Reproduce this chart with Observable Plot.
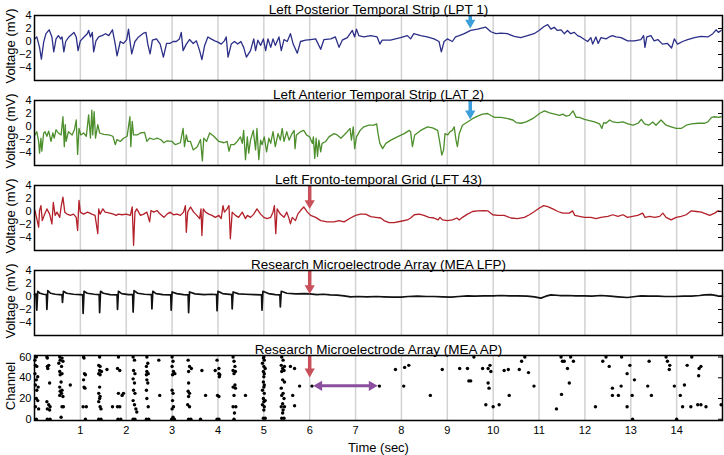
<!DOCTYPE html>
<html><head><meta charset="utf-8">
<script src="https://cdn.jsdelivr.net/npm/d3@7"></script>
<script src="https://cdn.jsdelivr.net/npm/@observablehq/plot@0.6"></script>
<style>
body{margin:0;background:#fff;}
#chart{position:relative;width:724px;height:455px;}
#chart svg{position:absolute;left:0;}
</style></head><body><div id="chart"></div>
<script>
// ---- tick labels / axes ----
const xTicks = [1,2,3,4,5,6,7,8,9,10,11,12,13,14];
const vTicks = [-4,-2,0,2,4];
const chTicks = [0,20,40,60];
const titles = ["Left Posterior Temporal Strip (LPT 1)","Left Anterior Temporal Strip (LAT 2)","Left Fronto-temporal Grid (LFT 43)","Research Microelectrode Array (MEA LFP)","Research Microelectrode Array (MEA AP)"];

// ---- traces: [time (s), voltage (mV)] ----
const lpt = [[0,0.4],[0.05,0.7],[0.11,-0.9],[0.15,-2.7],[0.2,-0.1],[0.25,1.2],[0.32,1.8],[0.38,0.7],[0.42,-1.6],[0.47,0.4],[0.52,0.9],[0.57,0.4],[0.6,0.7],[0.64,-1.6],[0.68,0],[0.75,0.7],[0.86,1.4],[0.91,0.7],[0.95,-1.4],[1.0,0.1],[1.08,0.7],[1.15,1.2],[1.18,1.7],[1.22,0.7],[1.26,1.4],[1.29,-1.6],[1.34,0.1],[1.4,0.7],[1.47,0.9],[1.55,1.2],[1.62,0.9],[1.7,1.8],[1.76,-0.4],[1.8,-2.2],[1.87,0],[1.94,-0.3],[2.01,0.3],[2.05,1.9],[2.09,-0.4],[2.12,-1.9],[2.19,0],[2.27,0.7],[2.38,1.3],[2.43,1.4],[2.47,-0.4],[2.52,-1.9],[2.57,0.2],[2.66,0.4],[2.74,-0.4],[2.81,-2.4],[2.88,-0.3],[2.95,-0.3],[3.02,0],[3.09,0],[3.16,0.4],[3.2,1.4],[3.24,-1.4],[3.31,-0.4],[3.38,0.3],[3.46,-0.3],[3.53,0.1],[3.6,-1.4],[3.65,-2.8],[3.71,-0.6],[3.78,0.7],[3.85,0.4],[3.93,0.1],[4.0,-0.1],[4.07,-0.4],[4.14,0.1],[4.18,0.7],[4.22,-2.4],[4.29,-0.4],[4.36,0],[4.43,-0.4],[4.5,0],[4.56,-0.9],[4.62,-2.4],[4.71,-1.4],[4.78,0.4],[4.82,-1.4],[4.87,0.2],[4.93,-0.6],[4.99,0.4],[5.04,-1.4],[5.09,0.4],[5.15,-0.9],[5.2,0.4],[5.25,-0.6],[5.33,0.7],[5.38,-1.4],[5.44,0.3],[5.51,0],[5.58,1.2],[5.64,-0.4],[5.73,-1.8],[5.8,0],[5.91,0.2],[6.02,0.3],[6.13,0.4],[6.24,-1.2],[6.31,0.3],[6.46,0.4],[6.56,0.7],[6.64,-0.9],[6.71,0.2],[6.82,0.6],[6.93,1.7],[6.98,0.7],[7.02,1.9],[7.07,0.9],[7.18,0.7],[7.33,0.9],[7.47,0.7],[7.53,-0.4],[7.58,0.2],[7.76,0.2],[7.98,0.6],[8.13,0.9],[8.2,0.4],[8.27,1.2],[8.42,0.9],[8.56,0.7],[8.71,0.4],[8.82,0],[8.87,-1.6],[8.93,0],[9.0,0.4],[9.11,0],[9.18,0.7],[9.26,0.9],[9.37,1.2],[9.51,1.7],[9.66,1.9],[9.77,2.1],[9.84,2.2],[9.95,1.5],[10.06,1.2],[10.17,1.3],[10.31,1.2],[10.46,0.8],[10.6,0.6],[10.75,0.9],[10.89,1.2],[11.0,1.7],[11.11,2.3],[11.19,2.6],[11.26,1.9],[11.33,2.2],[11.4,1.7],[11.48,1.8],[11.55,1.2],[11.62,1.7],[11.69,1.2],[11.77,1.4],[11.84,0.9],[11.91,0.7],[11.99,0.3],[12.06,0],[12.13,0.6],[12.17,-0.4],[12.24,0.7],[12.29,-0.3],[12.35,0.6],[12.46,0.4],[12.53,0.7],[12.6,0.9],[12.68,0.7],[12.79,0.6],[12.93,0.1],[13.08,0.1],[13.22,0.3],[13.28,0.9],[13.31,-0.9],[13.35,0.7],[13.44,0.9],[13.51,0.1],[13.59,0.3],[13.69,-0.4],[13.8,-0.3],[13.89,-1.0],[13.95,0.4],[14.02,-0.4],[14.13,0],[14.24,0.3],[14.39,0.6],[14.53,0.8],[14.68,0.7],[14.79,1.2],[14.86,1.8],[14.91,1.4],[14.97,1.7]];

const lat = [[0.01,-1.3],[0.05,-0.8],[0.09,-2.3],[0.11,-4.1],[0.14,-1.8],[0.16,-3.8],[0.2,-1.0],[0.23,-0.8],[0.27,-1.5],[0.31,-0.7],[0.36,-2.3],[0.4,-1.0],[0.43,-1.8],[0.47,-0.5],[0.52,-1.0],[0.58,-1.3],[0.62,1.5],[0.65,-3.1],[0.67,0.3],[0.69,-2.3],[0.74,-0.8],[0.82,-1.3],[0.87,-0.5],[0.91,1.0],[0.94,-4.3],[0.97,-0.3],[1.01,-1.3],[1.07,-1.0],[1.13,-1.5],[1.18,1.8],[1.22,-1.8],[1.25,2.5],[1.27,-1.3],[1.3,2.3],[1.33,-1.8],[1.38,0.3],[1.42,-1.0],[1.51,-1.2],[1.62,-1.3],[1.71,-1.5],[1.76,-2.8],[1.8,-2.0],[1.87,-2.3],[1.94,-1.8],[2.02,-1.5],[2.08,1.5],[2.1,-3.1],[2.13,0.8],[2.16,-1.3],[2.24,-1.3],[2.31,-1.0],[2.4,-0.9],[2.45,-2.3],[2.51,-1.8],[2.6,-2.0],[2.67,-1.8],[2.75,-2.0],[2.82,-2.5],[2.89,-2.2],[3.0,-2.3],[3.07,-2.8],[3.18,-2.5],[3.24,-0.3],[3.27,-3.1],[3.31,-1.3],[3.34,-2.3],[3.4,-2.3],[3.46,-3.6],[3.55,-3.1],[3.62,-2.0],[3.66,-5.3],[3.69,-1.8],[3.75,-2.3],[3.82,-1.0],[3.91,-1.5],[4.02,-2.3],[4.13,-2.5],[4.2,-2.3],[4.24,-3.8],[4.28,-2.8],[4.35,-2.8],[4.42,-2.3],[4.49,-1.6],[4.53,-2.6],[4.56,-0.6],[4.6,-5.1],[4.64,-1.6],[4.67,-4.1],[4.71,-2.1],[4.77,-0.6],[4.82,-3.6],[4.85,-0.3],[4.89,-5.1],[4.93,-2.1],[4.96,-2.8],[5.01,-1.6],[5.06,-3.9],[5.11,-1.8],[5.15,-2.6],[5.2,-0.8],[5.25,-3.1],[5.31,-1.1],[5.36,-2.1],[5.4,-0.3],[5.44,-2.3],[5.5,-0.8],[5.55,-2.1],[5.6,-1.3],[5.66,-0.6],[5.68,-3.4],[5.71,-1.3],[5.8,-0.8],[5.87,-0.6],[5.93,-1.3],[6.0,-1.6],[6.06,-2.6],[6.08,-1.6],[6.11,-4.9],[6.14,-1.8],[6.17,-4.6],[6.2,-2.1],[6.24,-3.9],[6.27,-2.6],[6.35,-2.3],[6.42,-1.6],[6.53,-1.1],[6.6,-1.3],[6.68,-1.8],[6.75,-1.3],[6.82,-0.8],[6.88,-0.3],[6.91,-2.1],[6.95,-0.05],[6.98,-3.4],[7.02,-1.6],[7.1,-0.6],[7.18,-0.05],[7.29,0.2],[7.4,0.2],[7.46,0.4],[7.49,-1.1],[7.53,-2.6],[7.59,-3.4],[7.66,-2.6],[7.77,-2.1],[7.91,-1.6],[8.06,-1.1],[8.17,-0.6],[8.2,-0.8],[8.24,-3.1],[8.29,-1.3],[8.42,-0.6],[8.57,-0.05],[8.68,-0.2],[8.79,-0.6],[8.84,-2.6],[8.88,-4.4],[8.92,-3.6],[8.95,-1.1],[9.01,-1.3],[9.06,-0.8],[9.11,-0.6],[9.15,-0.05],[9.19,-2.1],[9.22,-3.1],[9.26,-1.1],[9.33,0.2],[9.44,0.7],[9.55,1.2],[9.66,1.6],[9.77,1.9],[9.88,2.0],[9.95,1.7],[10.03,1.4],[10.17,1.4],[10.32,1.2],[10.43,1.0],[10.5,0.6],[10.61,0.5],[10.72,0.7],[10.86,1.2],[11.01,2.0],[11.12,2.4],[11.23,2.1],[11.34,1.9],[11.45,1.7],[11.52,1.9],[11.59,1.6],[11.66,1.7],[11.74,2.4],[11.81,1.4],[11.88,1.4],[11.99,1.1],[12.1,0.9],[12.21,0.7],[12.32,0.4],[12.37,-0.3],[12.41,0.6],[12.46,0.5],[12.54,1.0],[12.61,0.7],[12.72,0.6],[12.83,0.7],[12.94,0.4],[13.05,0.2],[13.16,0.5],[13.23,1.1],[13.3,0.4],[13.39,0.2],[13.48,0.7],[13.55,0.2],[13.66,1.0],[13.77,0.2],[13.88,-0.05],[13.99,-0.3],[14.1,-0.3],[14.21,0.2],[14.32,0.4],[14.47,0.5],[14.61,0.5],[14.68,0.7],[14.76,1.4],[14.83,1.5],[14.92,1.4],[14.97,1.5]];

const lft = [[0.01,0.15],[0.05,-1.1],[0.09,-2.4],[0.11,0.15],[0.14,0.9],[0.17,-1.4],[0.21,-0.6],[0.27,0.4],[0.33,-0.4],[0.38,-1.9],[0.41,1.4],[0.45,-0.6],[0.49,-0.1],[0.55,-0.9],[0.58,0.7],[0.62,2.2],[0.66,-0.1],[0.71,-0.4],[0.78,-0.6],[0.85,-0.4],[0.91,-0.9],[0.94,-2.9],[0.97,1.7],[1.0,-0.1],[1.07,-0.4],[1.16,-0.1],[1.25,-0.4],[1.32,-0.6],[1.38,-3.4],[1.4,0.4],[1.43,-0.4],[1.49,0.4],[1.54,-0.1],[1.62,-0.2],[1.72,-0.4],[1.78,-0.6],[1.83,-0.4],[1.91,-0.5],[2.0,-0.4],[2.09,-0.6],[2.13,0.7],[2.16,-5.2],[2.19,-0.1],[2.23,0.4],[2.31,-0.6],[2.38,-0.4],[2.45,-0.1],[2.51,-1.6],[2.54,0.15],[2.6,-0.1],[2.67,0.15],[2.74,-0.4],[2.82,-0.9],[2.89,-0.4],[2.96,-0.1],[3.03,-0.5],[3.11,-0.4],[3.18,-0.6],[3.25,-0.1],[3.29,0.9],[3.31,-3.2],[3.34,-0.1],[3.4,0.7],[3.47,-0.1],[3.54,-0.6],[3.6,-1.1],[3.63,0.4],[3.65,-3.7],[3.68,0.4],[3.73,-0.1],[3.8,-0.4],[3.87,-0.6],[3.94,-0.9],[4.02,-0.6],[4.07,-1.1],[4.11,0.9],[4.14,-0.1],[4.2,0.4],[4.24,0.9],[4.27,-4.2],[4.31,-0.1],[4.38,-0.6],[4.45,-0.9],[4.53,-0.1],[4.6,-1.1],[4.64,-0.6],[4.71,-0.9],[4.78,-0.4],[4.85,0.4],[4.93,-0.4],[5.0,-0.9],[5.07,-1.1],[5.15,-0.9],[5.2,-0.1],[5.23,0.9],[5.26,-3.4],[5.29,0.4],[5.36,-0.4],[5.44,-0.9],[5.5,-0.1],[5.55,-1.1],[5.58,-1.9],[5.62,-0.9],[5.69,-1.4],[5.74,-0.4],[5.8,0.15],[5.87,0.7],[5.95,-0.1],[6.02,-0.6],[6.13,-0.9],[6.24,-1.4],[6.38,-1.6],[6.53,-1.6],[6.64,-1.4],[6.75,-1.6],[6.89,-1.0],[7.0,-0.6],[7.11,-0.4],[7.22,-0.4],[7.33,-0.8],[7.44,-0.9],[7.55,-1.0],[7.62,-1.4],[7.73,-1.7],[7.84,-1.7],[7.99,-1.5],[8.13,-1.3],[8.2,-1.0],[8.28,-0.5],[8.39,-0.4],[8.49,-0.6],[8.6,-0.9],[8.71,-1.0],[8.8,-1.3],[8.84,-0.9],[8.9,-1.3],[9.0,-1.4],[9.11,-1.3],[9.21,-1.0],[9.26,-1.3],[9.33,-0.9],[9.44,-0.4],[9.55,0],[9.66,0.1],[9.8,0.15],[9.88,0.1],[9.99,-0.5],[10.1,-0.6],[10.24,-0.6],[10.39,-1.0],[10.53,-1.1],[10.68,-0.9],[10.79,-0.5],[10.9,0],[11.0,0.5],[11.1,0.9],[11.19,0.75],[11.3,0.4],[11.41,0],[11.52,-0.25],[11.66,-0.25],[11.73,0.1],[11.78,-0.6],[11.88,-0.75],[11.99,-0.9],[12.13,-0.9],[12.24,-1.1],[12.35,-0.9],[12.5,-0.75],[12.61,-0.5],[12.72,-0.75],[12.83,-0.5],[12.93,-0.9],[13.04,-0.75],[13.15,-0.6],[13.26,-0.25],[13.31,-0.9],[13.41,-0.75],[13.52,-0.9],[13.63,-0.75],[13.7,-0.25],[13.77,-0.9],[13.88,-1.3],[13.99,-0.9],[14.1,-0.75],[14.21,-0.5],[14.32,0.1],[14.43,0],[14.54,-0.1],[14.65,-0.4],[14.72,-0.6],[14.83,-0.25],[14.9,0.1],[14.97,0]];

const lfp = [[0,0.3],[0.03,0.4],[0.05,-2.1],[0.07,0.8],[0.12,0.5],[0.2,0.35],[0.26,0.3],[0.27,-2.0],[0.29,0.9],[0.35,0.5],[0.45,0.35],[0.55,0.3],[0.6,0.25],[0.61,-0.9],[0.63,0.8],[0.7,0.5],[0.85,0.35],[1.0,0.3],[1.05,0.25],[1.06,-2.6],[1.08,0.8],[1.15,0.5],[1.3,0.35],[1.41,0.3],[1.42,-2.5],[1.44,0.8],[1.5,0.5],[1.65,0.3],[1.8,0.25],[1.81,-2.0],[1.83,0.8],[1.9,0.45],[2.05,0.3],[2.14,0.3],[2.15,-2.4],[2.17,0.9],[2.25,0.5],[2.4,0.35],[2.55,0.3],[2.56,-1.9],[2.58,0.8],[2.65,0.45],[2.8,0.3],[2.97,0.25],[2.98,-2.1],[3.0,0.7],[3.1,0.45],[3.25,0.3],[3.35,0.25],[3.36,-2.5],[3.38,0.7],[3.5,0.4],[3.7,0.3],[3.85,0.35],[3.97,0.3],[3.98,-2.2],[4.0,0.8],[4.1,0.45],[4.3,0.3],[4.31,-1.9],[4.33,0.7],[4.45,0.4],[4.6,0.35],[4.8,0.3],[4.95,0.25],[4.96,-2.1],[4.98,0.8],[5.1,0.45],[5.25,0.3],[5.35,0.25],[5.36,-1.6],[5.38,0.8],[5.5,0.5],[5.7,0.4],[5.9,0.45],[6.0,0.4],[6.15,0.3],[6.3,0.35],[6.45,0.25],[6.6,0.2],[6.75,0.1],[6.89,-0.05],[7.05,0.0],[7.25,-0.05],[7.45,0.0],[7.62,-0.05],[7.8,-0.1],[7.99,-0.1],[8.15,0.0],[8.35,0.05],[8.55,0.0],[8.71,0.0],[8.9,-0.05],[9.08,-0.1],[9.25,0.0],[9.44,0.1],[9.6,0.05],[9.8,0.1],[10.0,0.1],[10.17,0.15],[10.35,0.1],[10.53,0.1],[10.75,0.05],[10.9,-0.05],[11.04,-0.25],[11.15,0.05],[11.26,0.25],[11.45,0.15],[11.62,0.15],[11.8,0.1],[11.99,0.1],[12.15,0.05],[12.35,0.15],[12.55,0.05],[12.72,-0.05],[12.93,-0.15],[13.1,0.0],[13.23,0.1],[13.4,0.05],[13.59,0.05],[13.75,0.0],[13.95,0.0],[14.15,0.05],[14.32,0.05],[14.5,0.15],[14.61,0.25],[14.75,0.3],[14.9,0.1],[15.0,0.05]];

// ---- raster: spike times (s) and channels ----
const spikeT = [0.04,0.02,0.05,0.01,0.07,0.04,0.02,0.08,0.05,0.04,0.07,0.02,0.09,0.04,0.01,
0.27,0.28,0.31,0.28,0.29,0.33,0.27,0.31,0.34,0.28,0.33,0.28,0.34,
0.55,0.6,0.56,0.62,0.53,0.59,0.55,0.6,0.56,0.58,0.55,0.6,0.56,0.59,0.55,0.62,0.6,0.63,0.58,0.78,
1.07,1.08,1.09,1.11,1.07,1.08,1.1,1.06,1.13,1.11,
1.42,1.4,1.43,1.42,1.46,1.4,1.43,1.42,1.4,1.43,1.42,1.4,1.43,1.45,1.4,1.45,1.58,1.7,
1.83,1.81,1.86,1.83,1.91,1.94,1.81,1.86,1.82,1.88,
2.15,2.18,2.16,2.19,2.15,2.18,2.16,2.19,2.15,2.18,2.21,2.23,2.15,2.19,
2.45,2.47,2.44,2.45,2.48,2.44,2.45,2.47,2.44,2.45,2.48,2.44,2.49,2.71,2.73,
3.0,3.02,3.0,3.03,3.06,3.01,3.0,3.02,3.01,3.03,3.0,3.02,2.99,3.05,
3.35,3.38,3.42,3.36,3.36,3.35,3.38,3.36,3.34,3.38,3.36,3.41,3.62,3.65,3.73,
3.94,3.98,4.02,4.02,4.04,4.03,3.99,4.02,3.98,4.02,
4.33,4.35,4.37,4.33,4.38,4.35,4.37,4.33,4.38,4.35,4.33,4.39,4.36,4.35,4.6,
5.0,4.99,5.01,4.97,5.0,5.03,4.99,5.01,5.0,4.99,5.01,5.0,4.97,5.01,4.99,5.03,5.0,4.97,5.01,5.0,4.99,5.03,
5.39,5.42,5.38,5.45,5.41,5.44,5.39,5.41,5.45,5.38,5.42,5.39,5.44,5.41,5.38,5.45,5.42,5.41,5.39,5.44,
5.58,5.67,5.63,5.67,5.78,6.05,7.52,7.87,8.07,8.16,8.05,8.63,8.89,9.27,9.44,9.47,9.51,9.58,
9.77,9.89,9.93,9.95,9.89,9.91,9.84,10.0,10.13,10.24,10.33,10.35,10.57,10.62,10.69,10.77,10.89,
11.38,11.48,11.51,11.55,11.49,11.62,11.66,11.69,11.75,12.23,12.39,12.46,12.53,12.6,12.6,12.73,12.79,12.8,12.92,12.92,12.98,13.03,13.08,13.04,
13.37,13.4,13.45,13.77,13.8,13.85,13.84,13.95,14.0,14.08,14.13,14.17,14.23,14.31,14.33,14.48,14.49,14.53,14.46,14.53,14.64,14.97];
const spikeCh = [60,52,51,44,41,38,33,31,28,20,18,12,10,0,57,
60,59,52,51,49,35,17,14,12,10,9,0,0,
60,59,57,56,54,51,46,44,43,36,31,28,27,25,23,22,12,12,2,33,
60,59,44,43,38,31,30,12,12,0,
60,52,51,47,46,44,43,31,25,22,20,17,12,10,0,0,48,12,
60,49,47,25,23,25,12,12,0,0,
60,57,47,44,39,35,28,25,18,14,10,7,0,0,
60,54,51,46,44,43,38,35,28,20,12,0,0,57,23,
60,56,51,46,44,43,28,25,18,12,10,2,0,0,
57,51,49,46,35,27,25,22,14,12,0,0,0,47,23,
47,57,49,44,43,41,23,22,0,0,
60,56,51,47,46,44,33,31,30,23,12,12,6,0,23,
60,59,57,54,51,49,46,44,41,36,33,31,28,25,20,18,17,14,12,9,1,1,
60,57,52,51,49,47,46,38,36,30,25,23,20,15,12,12,9,6,1,1,
51,49,23,13,32,32,32,48,50,52,32,23,48,49,49,37,37,60,
49,49,52,46,35,30,14,12,14,47,48,23,48,56,60,45,32,
10,60,56,56,24,49,35,60,56,12,56,60,51,30,23,23,32,60,44,12,52,23,38,0,
32,56,23,60,56,52,48,32,0,23,12,33,52,12,60,42,49,51,14,14,12,14];

// ---- annotation arrows (top value, shaft end, tip) ----
const onsetLateT = 9.5;   // blue arrows (LPT, LAT)
const onsetT = 6;         // red arrows (LFT, MEA LFP, MEA AP)
const lptArrow = [4, 3.1, 2.0];
const latArrow = [4, 2.2, 1.1];
const lftArrow = [4, 1.5, 0.4];
const lfpArrow = [4, 1.5, 0.4];
const apArrow = [61.5, 47, 40.4];
const spreadT = [6.08, 7.48]; // purple double arrow span
const spreadCh = 32.3;

const BLUE = "#3c9fdb", RED = "#c8505a", PURPLE = "#8c4f9f";
const FONT = "'Liberation Sans', Arial, Helvetica, sans-serif";
const chart = document.getElementById("chart");

function downArrow(t, a, color) {
  return [
    Plot.ruleX([t], {x: d => d, y1: a[0], y2: a[1], stroke: color, strokeWidth: 3.5}),
    Plot.dot([t], {x: d => d, y: a[2], symbol: "triangle", r: 3.8, fill: color, stroke: "none", rotate: 180, dy: -5.8})
  ];
}

function panel({top, height, marginBottom, yDomain, yTicks, yLabel, title, marks, bottomAxis}) {
  const svg = Plot.plot({
    width: 724, height, marginLeft: 34, marginRight: 2, marginTop: 15, marginBottom,
    x: {domain: [0, 15], axis: null},
    y: {domain: yDomain, axis: null},
    style: {fontFamily: FONT, fontSize: "11px", background: "transparent", overflow: "visible", color: "black"},
    marks: [
      Plot.ruleX(xTicks, {x: d => d, stroke: "#d2d2d2", strokeWidth: 1.5}),
      ...marks,
      Plot.frame({stroke: "black", strokeWidth: 1.5}),
      Plot.axisY(yTicks, {anchor: "left", tickSize: 0, tickPadding: 3, label: null, fontSize: 11}),
      Plot.axisY(yTicks, {anchor: "right", tickSize: -5, fill: "none", label: null, strokeWidth: 1}),
      ...(bottomAxis ? [
        Plot.axisX(xTicks, {anchor: "bottom", tickSize: 0, tickPadding: 6, label: null, fontSize: 11}),
        Plot.text(["Time (sec)"], {text: d => d, frameAnchor: "bottom", dy: 27, textAnchor: "middle", lineAnchor: "middle", fontSize: 13})
      ] : []),
      Plot.text([title], {text: d => d, frameAnchor: "top", textAnchor: "middle", lineAnchor: "bottom", dy: -2, fontSize: 13.5}),
      Plot.text([yLabel], {text: d => d, frameAnchor: "left", rotate: -90, dx: -24, dy: -2, textAnchor: "middle", lineAnchor: "middle", fontSize: 13})
    ]
  });
  svg.style.top = top + "px";
  chart.append(svg);
}

const toRows = arr => arr.map(([t, v]) => ({t, v}));

panel({top: 0, height: 85, marginBottom: 5, yDomain: [-6, 4], yTicks: vTicks, yLabel: "Voltage (mV)", title: titles[0],
  marks: [Plot.line(toRows(lpt), {x: "t", y: "v", stroke: "#2c2f88", strokeWidth: 1.3}), ...downArrow(onsetLateT, lptArrow, BLUE)]});
panel({top: 85, height: 85, marginBottom: 5, yDomain: [-6, 4], yTicks: vTicks, yLabel: "Voltage (mV)", title: titles[1],
  marks: [Plot.line(toRows(lat), {x: "t", y: "v", stroke: "#4d8f2c", strokeWidth: 1.3}), ...downArrow(onsetLateT, latArrow, BLUE)]});
panel({top: 170, height: 85, marginBottom: 5, yDomain: [-6, 4], yTicks: vTicks, yLabel: "Voltage (mV)", title: titles[2],
  marks: [Plot.line(toRows(lft), {x: "t", y: "v", stroke: "#b3212a", strokeWidth: 1.3}), ...downArrow(onsetT, lftArrow, RED)]});
panel({top: 255, height: 85, marginBottom: 5, yDomain: [-6, 4], yTicks: vTicks, yLabel: "Voltage (mV)", title: titles[3],
  marks: [Plot.line(toRows(lfp), {x: "t", y: "v", stroke: "#111", strokeWidth: 1.7}), ...downArrow(onsetT, lfpArrow, RED)]});

const raster = spikeT.map((t, i) => ({t, ch: spikeCh[i]}));
panel({top: 340, height: 115, marginBottom: 35, yDomain: [-1.2, 61.5], yTicks: chTicks, yLabel: "Channel", title: titles[4], bottomAxis: true,
  marks: [
    Plot.dot(raster, {x: "t", y: "ch", r: 1.7, fill: "black", stroke: "none"}),
    ...downArrow(onsetT, apArrow, RED),
    Plot.ruleY([spreadCh], {y: d => d, x1: spreadT[0] + 0.12, x2: spreadT[1] - 0.12, stroke: PURPLE, strokeWidth: 3}),
    Plot.dot([spreadT[0]], {x: d => d, y: spreadCh, symbol: "triangle", r: 3.8, fill: PURPLE, stroke: "none", rotate: -90, dx: 5.8}),
    Plot.dot([spreadT[1]], {x: d => d, y: spreadCh, symbol: "triangle", r: 3.8, fill: PURPLE, stroke: "none", rotate: 90, dx: -5.8})
  ]});
</script></body></html>
